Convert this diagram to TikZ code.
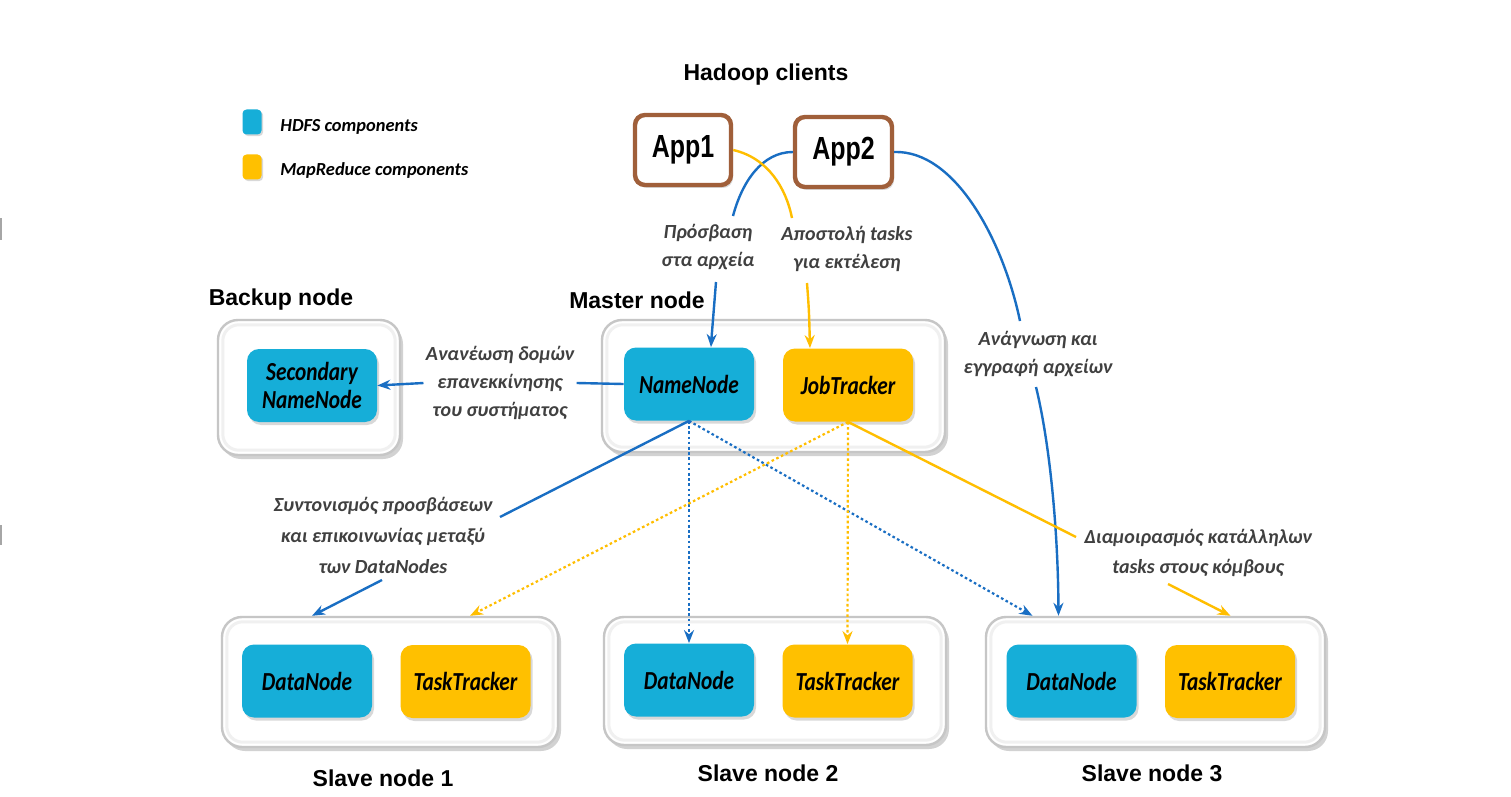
\documentclass[tikz,border=0pt]{standalone}
\usepackage{fontspec}
\setmainfont{Liberation Sans}
\newfontfamily\calfont{Carlito}
\usepackage{graphicx}
\usetikzlibrary{arrows.meta,calc,shadows}
\definecolor{hdfs}{RGB}{22,174,216}
\definecolor{mapr}{RGB}{255,192,0}
\definecolor{lblue}{RGB}{25,110,195}
\definecolor{lyel}{RGB}{255,190,0}
\definecolor{lbl}{RGB}{64,64,64}
\definecolor{appbr}{RGB}{160,95,58}
\tikzset{
  container/.style={draw=gray!45, line width=1.2pt, fill=white, rounded corners=10pt,
    drop shadow={shadow xshift=1.5pt, shadow yshift=-2pt, opacity=0.35, fill=gray}},
  inner/.style={draw=gray!12, line width=1.5pt, rounded corners=8pt},
  comp/.style={rounded corners=6pt, minimum width=65pt, minimum height=36.5pt, inner sep=0pt,
    font=\calfont\bfseries\itshape\fontsize{13}{15}\selectfont,
    drop shadow={shadow xshift=1pt, shadow yshift=-1.5pt, opacity=0.3, fill=gray}},
  hcomp/.style={comp, fill=hdfs},
  mcomp/.style={comp, fill=mapr},
  app/.style={draw=appbr, line width=2.2pt, fill=white, rounded corners=5pt, minimum height=35pt,
    inner sep=0pt, font=\bfseries\fontsize{16}{18}\selectfont,
    drop shadow={shadow xshift=1pt, shadow yshift=-1.5pt, opacity=0.3, fill=gray}},
  head/.style={font=\bfseries\fontsize{11.5}{13}\selectfont, inner sep=0pt},
  lab/.style={align=center, text=lbl, inner sep=1pt},
  legsq/.style={rounded corners=2pt, minimum width=9.5pt, minimum height=12.5pt, inner sep=0pt,
    drop shadow={shadow xshift=0.8pt, shadow yshift=-0.8pt, opacity=0.3, fill=gray}},
  legtxt/.style={font=\calfont\bfseries\itshape\fontsize{9.2}{11}\selectfont, anchor=west, inner sep=0pt},
  bconn/.style={draw=lblue, line width=1.2pt},
  yconn/.style={draw=lyel, line width=1.2pt},
  bdot/.style={draw=lblue, line width=1.1pt, dash pattern=on 1.3pt off 1.3pt},
  ydot/.style={draw=lyel, line width=1.1pt, dash pattern=on 1.3pt off 1.3pt},
  tip/.style={-{Stealth[length=6.5pt,width=5pt]}},
}
\newcommand{\labfont}[1]{\calfont\bfseries\itshape\fontsize{10}{#1}\selectfont}
\begin{document}
\begin{tikzpicture}[x=0.5pt,y=-0.5pt]
\useasboundingbox (0,0) rectangle (1511,797);
\fill[white] (0,0) rectangle (1511,797);
% edge marks
\fill[gray!70] (0,218) rectangle (2,240);
\fill[gray!70] (0,525) rectangle (2,545);

% legend
\node[legsq, fill=hdfs] (lq1) at (252,122) {};
\node[legsq, fill=mapr] (lq2) at (252,167) {};
\node[legtxt] (lt1) at (280,127) {HDFS components};
\node[legtxt] (lt2) at (280,170) {MapReduce components};

% clients
\node[head] (hc) at (766,75) {Hadoop clients};
\node[app, minimum width=48pt] (App1) at (683,150) {\scalebox{0.78}[1]{App1}};
\node[app, minimum width=48.5pt] (App2) at (843.5,152) {\scalebox{0.78}[1]{App2}};

% backup node
\node[head] (hb) at (281,300) {Backup node};
\node[container, minimum width=91pt, minimum height=67.5pt] (B) at (309,387.5) {};
\draw[inner] ($(B.south west)+(6,-6)$) rectangle ($(B.north east)+(-6,6)$);
\node[hcomp, align=center, font=\calfont\bfseries\itshape\fontsize{13}{14}\selectfont] (SNN) at (312,385.5) {\scalebox{0.82}[1]{Secondary}\\\scalebox{0.82}[1]{NameNode}};

% master node
\node[head] (hm) at (637,300) {Master node};
\node[container, minimum width=171.5pt, minimum height=66pt] (M) at (773.5,386) {};
\draw[inner] ($(M.south west)+(6,-6)$) rectangle ($(M.north east)+(-6,6)$);
\node[hcomp] (NN) at (689,384) {\scalebox{0.82}[1]{NameNode}};
\node[mcomp] (JT) at (848,385) {\scalebox{0.82}[1]{JobTracker}};

% slave nodes
\node[container, minimum width=168pt, minimum height=65pt] (S1) at (390,682) {};
\draw[inner] ($(S1.south west)+(6,-6)$) rectangle ($(S1.north east)+(-6,6)$);
\node[hcomp] (DN1) at (307,681) {\scalebox{0.82}[1]{DataNode}};
\node[mcomp] (TT1) at (465.5,681.5) {\scalebox{0.82}[1]{TaskTracker}};
\node[head] (hs1) at (383,778) {Slave node 1};

\node[container, minimum width=171pt, minimum height=64pt] (S2) at (775,681) {};
\draw[inner] ($(S2.south west)+(6,-6)$) rectangle ($(S2.north east)+(-6,6)$);
\node[hcomp] (DN2) at (689,680) {\scalebox{0.82}[1]{DataNode}};
\node[mcomp] (TT2) at (847.5,681) {\scalebox{0.82}[1]{TaskTracker}};
\node[head] (hs2) at (768,773) {Slave node 2};

\node[container, minimum width=169.5pt, minimum height=65pt] (S3) at (1155.5,682) {};
\draw[inner] ($(S3.south west)+(6,-6)$) rectangle ($(S3.north east)+(-6,6)$);
\node[hcomp] (DN3) at (1071.5,681) {\scalebox{0.82}[1]{DataNode}};
\node[mcomp] (TT3) at (1230,681.5) {\scalebox{0.82}[1]{TaskTracker}};
\node[head] (hs3) at (1152,773) {Slave node 3};

% labels
\node[lab, font=\labfont{14}] (lA) at (500,383) {Ανανέωση δομών\\επανεκκίνησης\\του συστήματος};
\node[lab, font=\labfont{14}] (lP) at (708,247) {Πρόσβαση\\στα αρχεία};
\node[lab, font=\labfont{14}] (lT) at (847,249) {Αποστολή tasks\\για εκτέλεση};
\node[lab, font=\labfont{14}] (lR) at (1038,354) {Ανάγνωση και\\εγγραφή αρχείων};
\node[lab, font=\labfont{15.5}] (lS) at (383,535) {Συντονισμός προσβάσεων\\και επικοινωνίας μεταξύ\\των DataNodes};
\node[lab, font=\labfont{15}] (lD) at (1198,553) {Διαμοιρασμός κατάλληλων\\tasks στους κόμβους};

% connector break points
\coordinate (pA1) at (733,216);
\coordinate (pA2) at (716,282);
\coordinate (pT1) at (792,218);
\coordinate (pT2) at (807,283);
\coordinate (pR1) at (1020,321);
\coordinate (pR2) at (1036,387);
\coordinate (sA) at (500,517);
\coordinate (sB) at (382,580);
\coordinate (dA) at (1076,537);
\coordinate (dB) at (1168,584);

% connectors
\draw[bconn] (NN.west) -- (lA.east);
\draw[bconn, tip] (lA.west) -- (SNN.east);

\draw[bconn] (App2.west) .. controls (762,152) and (742,182) .. (pA1);
\draw[bconn, tip] (pA2) .. controls (713,310) .. ($(NN.north)+(22,0)$);

\draw[yconn] (App1.east) .. controls (768,158) and (786,188) .. (pT1);
\draw[yconn, tip] (pT2) .. controls (809,310) .. ($(JT.north)+(-38,0)$);

\draw[bconn] (App2.east) .. controls (955,150) and (1003,240) .. (pR1);
\draw[bconn, tip] (pR2) .. controls (1049,440) and (1058,525) .. ($(S3.north)+(-97,0)$);

\draw[bconn] (NN.south) -- (sA);
\draw[bconn, tip] (sB) -- ($(S1.north)+(-78,0)$);
\draw[bdot, tip] (NN.south) -- (DN2.north);
\draw[bdot, tip] (NN.south) -- ($(S3.north)+(-123,0)$);

\draw[ydot, tip] (JT.south) -- ($(S1.north)+(80,0)$);
\draw[ydot, tip] (JT.south) -- (TT2.north);
\draw[yconn] (JT.south) -- (dA);
\draw[yconn, tip] (dB) -- ($(S3.north)+(75,0)$);
\end{tikzpicture}
\end{document}
